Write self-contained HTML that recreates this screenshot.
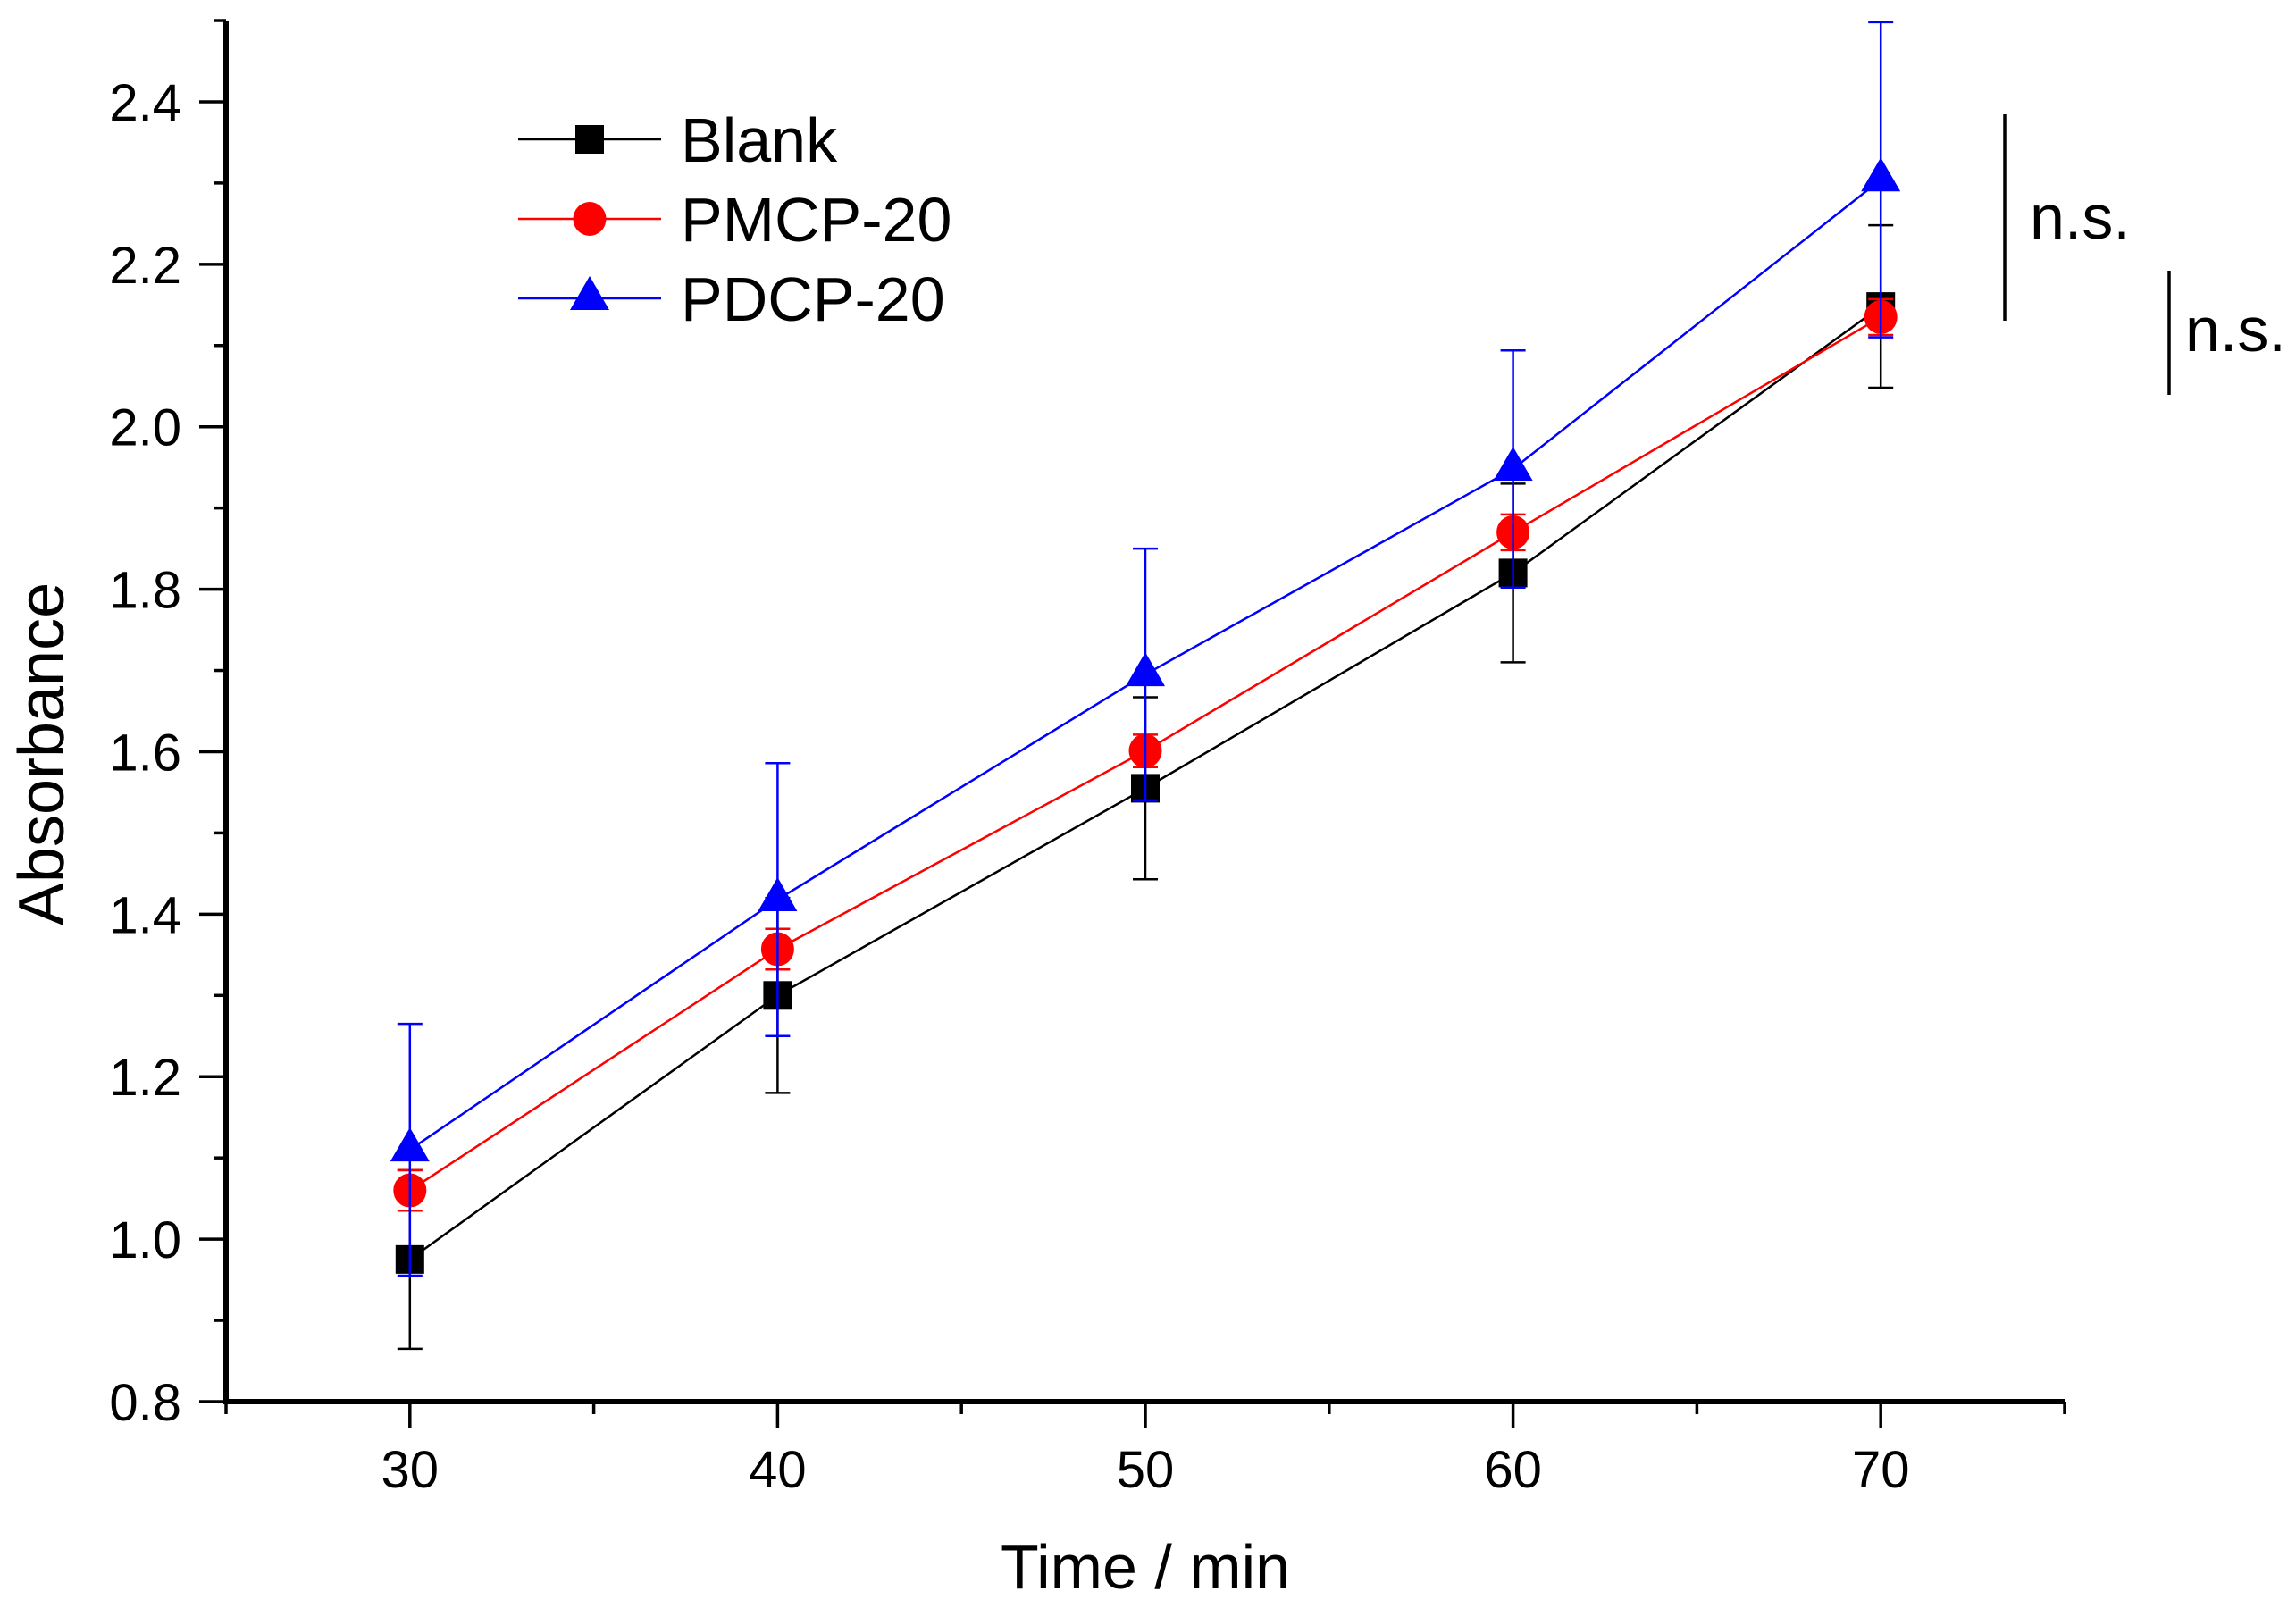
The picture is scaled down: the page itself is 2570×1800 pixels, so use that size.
<!DOCTYPE html>
<html><head><meta charset="utf-8"><style>
html,body{margin:0;padding:0;background:#fff;}
svg{display:block;font-family:"Liberation Sans",Arial,sans-serif;}
</style></head><body>
<svg id="chart" width="2570" height="1800" viewBox="0 0 2570 1800" xmlns="http://www.w3.org/2000/svg"></svg>
<script>
const times = [30, 40, 50, 60, 70];
const blankVals = [0.975, 1.300, 1.555, 1.820, 2.148];
const blankErr = [0.110, 0.120, 0.112, 0.110, 0.100];
const pmcpVals = [1.060, 1.357, 1.601, 1.870, 2.135];
const pmcpErr = [0.025, 0.025, 0.020, 0.022, 0.022];
const pdcpVals = [1.110, 1.418, 1.695, 1.948, 2.304];
const pdcpErr = [0.155, 0.168, 0.155, 0.146, 0.194];
const xTickLabels = ["30", "40", "50", "60", "70"];
const yTickLabels = ["0.8", "1.0", "1.2", "1.4", "1.6", "1.8", "2.0", "2.2", "2.4"];

const NS = "http://www.w3.org/2000/svg";
const svg = document.getElementById("chart");
const X0 = 253, X1 = 2311, Y0 = 1569, Y1 = 23;
const xMin = 25, xMax = 75, yMin = 0.8, yMax = 2.5;
function xs(v){ return X0 + (v - xMin) / (xMax - xMin) * (X1 - X0); }
function ys(v){ return Y0 - (v - yMin) / (yMax - yMin) * (Y0 - Y1); }
function mk(tag, attrs, parent){
  const e = document.createElementNS(NS, tag);
  for (const k in attrs) e.setAttribute(k, attrs[k]);
  (parent || svg).appendChild(e);
  return e;
}

// axes
const axes = mk("g", {});


const xl = mk("line", {x1: X0 - 3, y1: Y0, x2: X1, y2: Y0, stroke: "#000", "stroke-width": 6}, axes);


const yl = mk("line", {x1: X0, y1: Y0 + 3, x2: X0, y2: Y1, stroke: "#000", "stroke-width": 6}, axes);



// x ticks
for (let v = 25; v <= 75; v += 5) {
  const major = (v % 10 === 0);
  const t = mk("line", {x1: xs(v), y1: Y0, x2: xs(v), y2: Y0 + (major ? 30 : 14), stroke: "#000", "stroke-width": 3.5}, axes);
  
  
}
times.forEach((v, i) => {
  const t = mk("text", {x: xs(v), y: 1665, "font-size": 58, "text-anchor": "middle"}, axes);
  t.textContent = xTickLabels[i];
  
  
});
// y ticks
for (let k = 0; k <= 17; k++) {
  const v = yMin + k * 0.1;
  const major = (k % 2 === 0);
  const t = mk("line", {x1: X0, y1: ys(v), x2: X0 - (major ? 30 : 14), y2: ys(v), stroke: "#000", "stroke-width": 3.5}, axes);
  
  
}
yTickLabels.forEach((lab, i) => {
  const v = yMin + i * 0.2;
  const t = mk("text", {x: 203, y: ys(v) + 21, "font-size": 58, "text-anchor": "end"}, axes);
  t.textContent = lab;
  
  
});
const xt = mk("text", {x: 1282, y: 1778, "font-size": 70, "text-anchor": "middle"});
xt.textContent = "Time / min";


const yt = mk("text", {x: 0, y: 0, "font-size": 72, "text-anchor": "middle", transform: "translate(71,844) rotate(-90)"});
yt.textContent = "Absorbance";



function marker(shape, cx, cy, color, parent){
  let m;
  if (shape === "square") m = mk("rect", {x: cx - 16, y: cy - 16, width: 32, height: 32, fill: color}, parent);
  else if (shape === "circle") m = mk("ellipse", {cx: cx, cy: cy, rx: 18.5, ry: 19, fill: color}, parent);
  else m = mk("polygon", {points: `${cx},${cy - 25} ${cx + 22},${cy + 13} ${cx - 22},${cy + 13}`, fill: color}, parent);
  return m;
}

const series = [
  {name: "blank", vals: blankVals, err: blankErr, color: "#000", shape: "square"},
  {name: "pmcp-20", vals: pmcpVals, err: pmcpErr, color: "#ff0000", shape: "circle"},
  {name: "pdcp-20", vals: pdcpVals, err: pdcpErr, color: "#0000ff", shape: "triangle"}
];
series.forEach(s => {
  const g = mk("g", {});
  
  
  const pts = times.map((t, i) => xs(t) + "," + ys(s.vals[i])).join(" ");
  const pl = mk("polyline", {points: pts, fill: "none", stroke: s.color, "stroke-width": 2.5}, g);
  
  
  times.forEach((t, i) => {
    const cx = xs(t), hi = ys(s.vals[i] + s.err[i]), lo = ys(s.vals[i] - s.err[i]);
    const eb = mk("path", {d: `M${cx},${hi}V${lo}M${cx - 14},${hi}H${cx + 14}M${cx - 14},${lo}H${cx + 14}`, stroke: s.color, "stroke-width": 2.5, fill: "none"}, g);
    
    
  });
  times.forEach((t, i) => {
    const m = marker(s.shape, xs(t), ys(s.vals[i]), s.color, g);
    
    
  });
});

// legend
const legendLabels = ["Blank", "PMCP-20", "PDCP-20"];
const legendY = [156, 245, 334];
const lg = mk("g", {});


series.forEach((s, i) => {
  const e = mk("g", {}, lg);
  
  
  mk("line", {x1: 580, y1: legendY[i], x2: 740, y2: legendY[i], stroke: s.color, "stroke-width": 2.5}, e);
  marker(s.shape, 660, legendY[i], s.color, e);
  const t = mk("text", {x: 762, y: legendY[i] + 25, "font-size": 70}, e);
  t.textContent = legendLabels[i];
});

// significance brackets
const sig = mk("g", {});


const b1 = mk("line", {x1: 2244, y1: 128, x2: 2244, y2: 359, stroke: "#000", "stroke-width": 3.5}, sig);


const t1 = mk("text", {x: 2272, y: 267, "font-size": 70}, sig);
t1.textContent = "n.s.";


const b2 = mk("line", {x1: 2428, y1: 303, x2: 2428, y2: 442, stroke: "#000", "stroke-width": 3.5}, sig);


const t2 = mk("text", {x: 2446, y: 393, "font-size": 70}, sig);
t2.textContent = "n.s.";


</script>
</body></html>
